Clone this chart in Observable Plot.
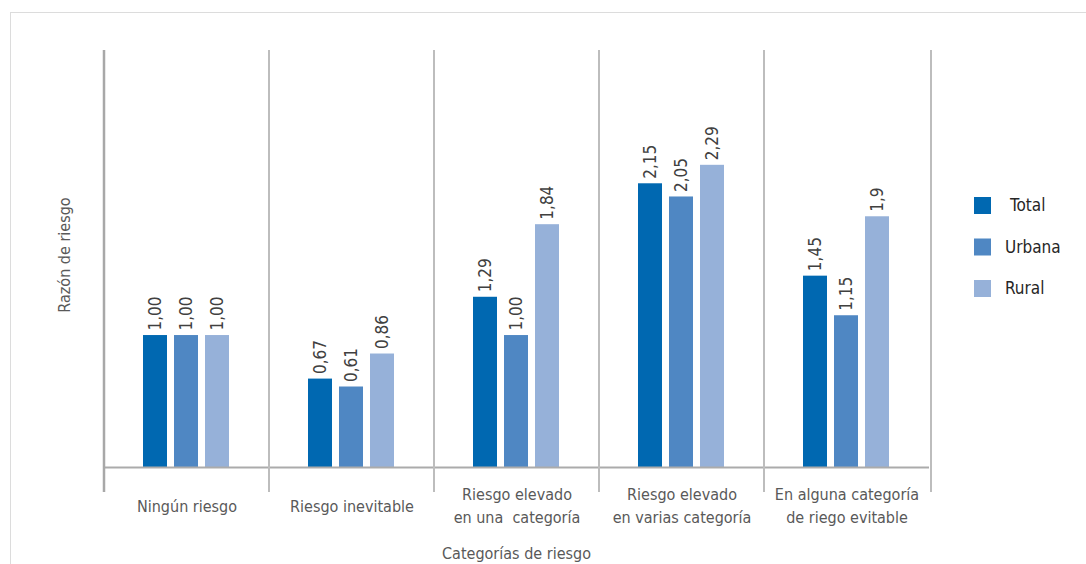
<!DOCTYPE html>
<html>
<head>
<meta charset="utf-8">
<script src="https://cdn.jsdelivr.net/npm/d3@7"></script>
<script src="https://cdn.jsdelivr.net/npm/@observablehq/plot@0.6"></script>
<style>
  html, body { margin: 0; padding: 0; background: #fff; }
  #chart { position: relative; width: 1086px; height: 564px; overflow: hidden; }
  svg { font-family: "Liberation Sans Narrow", "DejaVu Sans Condensed", "Roboto Condensed", "Open Sans", sans-serif; font-stretch: condensed; }
</style>
</head>
<body>
<div id="chart"></div>
<script>
const categories = [
  "Ningún riesgo",
  "Riesgo inevitable",
  "Riesgo elevado\nen una  categoría",
  "Riesgo elevado\nen varias categoría",
  "En alguna categoría\nde riego evitable"
];
const series = ["Total", "Urbana", "Rural"];
const totalValues  = ["1,00", "0,67", "1,29", "2,15", "1,45"];
const urbanaValues = ["1,00", "0,61", "1,00", "2,05", "1,15"];
const ruralValues  = ["1,00", "0,86", "1,84", "2,29", "1,9"];
const seriesColors = ["#0068b1", "#4f87c3", "#96b1d9"];
const yTitle = "Razón de riesgo";
const xTitle = "Categorías de riesgo";

const valueSets = [totalValues, urbanaValues, ruralValues];
const data = categories.flatMap((c, i) => series.map((s, j) => ({
  category: c,
  series: s,
  label: valueSets[j][i],
  value: +valueSets[j][i].replace(",", ".")
})));

const W = 1086, H = 564;
const plot = Plot.plot({
  width: W, height: H,
  marginLeft: 102, marginRight: 155, marginTop: 50, marginBottom: 97,
  style: { background: "transparent", fontFamily: "\"Liberation Sans Narrow\", \"DejaVu Sans Condensed\", sans-serif" },
  fx: { domain: categories, paddingInner: 0, paddingOuter: 0, axis: null },
  x: { domain: series, paddingInner: 0.22, paddingOuter: 1.2, axis: null },
  y: { domain: [0, 3.16], axis: null },
  color: { domain: series, range: seriesColors },
  marks: [
    Plot.barY(data, { fx: "category", x: "series", y: "value", fill: "series" }),
    Plot.ruleY([0], { stroke: "#ababab", strokeWidth: 2 }),
    Plot.text(data, {
      fx: "category", x: "series", y: "value", text: "label",
      rotate: -90, textAnchor: "start", dy: -5, fill: "#404040", fontSize: 17
    }),
    Plot.text(categories, {
      fx: d => d, text: d => d, frameAnchor: "bottom", dy: 37,
      lineAnchor: "middle", lineHeight: 1.42, fontSize: 16, fill: "#595959"
    })
  ]
});

document.getElementById("chart").appendChild(plot);
const svg = d3.select(plot);

// outer light frame
svg.insert("rect", ":first-child")
  .attr("x", 10.5).attr("y", 12.5).attr("width", W).attr("height", H)
  .attr("fill", "none").attr("stroke", "#dcdcdc");

// category separators from the fx band scale
const fx = plot.scale("fx");
const bounds = categories.map(c => fx.apply(c)).concat([fx.range[1]]);
svg.append("g").selectAll("line").data(bounds).join("line")
  .attr("x1", d => d).attr("x2", d => d)
  .attr("y1", 50).attr("y2", 492)
  .attr("stroke", (d, i) => i === 0 ? "#a8a8a8" : "#bdbdbd")
  .attr("stroke-width", (d, i) => i === 0 ? 2.5 : 2);

// axis titles
svg.append("text")
  .attr("transform", "translate(70,255) rotate(-90)")
  .attr("text-anchor", "middle").attr("font-size", 16).attr("fill", "#595959")
  .text(yTitle);
svg.append("text")
  .attr("x", (fx.range[0] + fx.range[1]) / 2).attr("y", 559)
  .attr("text-anchor", "middle").attr("font-size", 16).attr("fill", "#595959")
  .text(xTitle);

// legend
const color = plot.scale("color");
const lg = svg.append("g").selectAll("g").data(series).join("g")
  .attr("transform", (d, i) => `translate(974,${197 + i * 41.5})`);
lg.append("rect").attr("width", 17).attr("height", 17).attr("fill", d => color.apply(d));
lg.append("text").attr("x", d => d === "Total" ? 36 : 31).attr("y", 8.5).attr("dy", "0.35em")
  .attr("text-anchor", "start")
  .attr("font-size", 17).attr("fill", "#262626").text(d => d);
</script>
</body>
</html>
